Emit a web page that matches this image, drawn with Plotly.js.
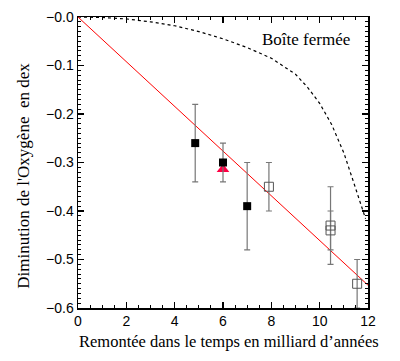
<!DOCTYPE html>
<html>
<head>
<meta charset="utf-8">
<script src="https://cdn.plot.ly/plotly-3.0.1.min.js"></script>
<style>html,body{margin:0;padding:0;background:#fff;}</style>
</head>
<body>
<div id="chart" style="width:400px;height:361px;"></div>
<script>
// Données
const filledX = [4.85, 6.0, 7.0];
const filledY = [-0.26, -0.30, -0.39];
const filledErr = [0.08, 0.04, 0.09];

const triX = [6.0];
const triY = [-0.314];

const openX = [7.9, 10.45, 10.45, 11.55];
const openY = [-0.35, -0.43, -0.44, -0.55];
const openErr = [0.05, 0.08, 0.04, 0.05];

const fitX = [0, 12];
const fitY = [0, -0.553];

const boxX = [0, 1, 2, 3, 4, 5, 6, 7, 8, 9, 9.5, 10, 10.5, 11, 11.4, 11.7, 11.9];
const boxY = [0, -0.001, -0.004, -0.010, -0.018, -0.030, -0.045, -0.063, -0.085, -0.118, -0.145, -0.178, -0.222, -0.280, -0.340, -0.385, -0.416];

const xTickVals = [0, 2, 4, 6, 8, 10, 12];
const xTickText = ["0", "2", "4", "6", "8", "10", "12"];
const yTickVals = [0, -0.1, -0.2, -0.3, -0.4, -0.5, -0.6];
const yTickText = ["\u22120.0", "\u22120.1", "\u22120.2", "\u22120.3", "\u22120.4", "\u22120.5", "\u22120.6"];

const serif = "'Liberation Serif', 'DejaVu Serif', serif";
const sans = "'Liberation Sans', Arial, sans-serif";

const traces = [
  {x: boxX, y: boxY, mode: "lines", line: {color: "#000", width: 1.2, dash: "3px,3px"}, hoverinfo: "skip"},
  {x: fitX, y: fitY, mode: "lines", line: {color: "#ff0000", width: 1}, hoverinfo: "skip"},
  {x: triX, y: triY, mode: "markers", marker: {symbol: "triangle-up", size: 11, color: "#ff0044", line: {width: 0}}},
  {x: filledX, y: filledY, mode: "markers",
   error_y: {type: "data", array: filledErr, visible: true, color: "#777", thickness: 1.2, width: 3},
   marker: {symbol: "square", size: 8, color: "#000", line: {width: 0}}},
  {x: openX, y: openY, mode: "markers",
   error_y: {type: "data", array: openErr, visible: true, color: "#777", thickness: 1.2, width: 3},
   marker: {symbol: "square-open", size: 9, color: "#555", line: {width: 1}}}
];

const axisCommon = {
  showline: true, linecolor: "#000", linewidth: 1.5, mirror: "allticks",
  ticks: "inside", ticklen: 6, tickwidth: 1.5, tickcolor: "#000",
  showgrid: false, zeroline: false,
  tickfont: {family: sans, size: 14, color: "#000"}
};

const layout = {
  width: 400, height: 361,
  margin: {l: 78, r: 32, t: 17, b: 53},
  paper_bgcolor: "#fff", plot_bgcolor: "#fff",
  showlegend: false,
  xaxis: Object.assign({}, axisCommon, {
    range: [0, 12], tickmode: "array", tickvals: xTickVals, ticktext: xTickText,
    minor: {dtick: 0.5, ticks: "inside", ticklen: 3, tickcolor: "#000", tickwidth: 1}
  }),
  yaxis: Object.assign({}, axisCommon, {
    range: [-0.6, 0], tickmode: "array", tickvals: yTickVals, ticktext: yTickText,
    minor: {dtick: 0.01, ticks: "inside", ticklen: 3, tickcolor: "#000", tickwidth: 1}
  }),
  annotations: [
    {text: "Boîte fermée", x: 9.44, y: -0.046, xref: "x", yref: "y", showarrow: false,
     font: {family: serif, size: 17, color: "#000"}},
    {text: "Remontée dans le temps en milliard d\u2019années", x: 0.519, y: -0.116, xref: "paper", yref: "paper",
     xanchor: "center", yanchor: "middle", showarrow: false, font: {family: serif, size: 16.5, color: "#000"}},
    {text: "Diminution de l'Oxygène \u00a0en dex", x: -0.186, y: 0.455, xref: "paper", yref: "paper",
     xanchor: "center", yanchor: "middle", textangle: -90, showarrow: false, font: {family: serif, size: 17, color: "#000"}}
  ]
};

Plotly.newPlot("chart", traces, layout, {staticPlot: true, displayModeBar: false});
</script>
</body>
</html>
